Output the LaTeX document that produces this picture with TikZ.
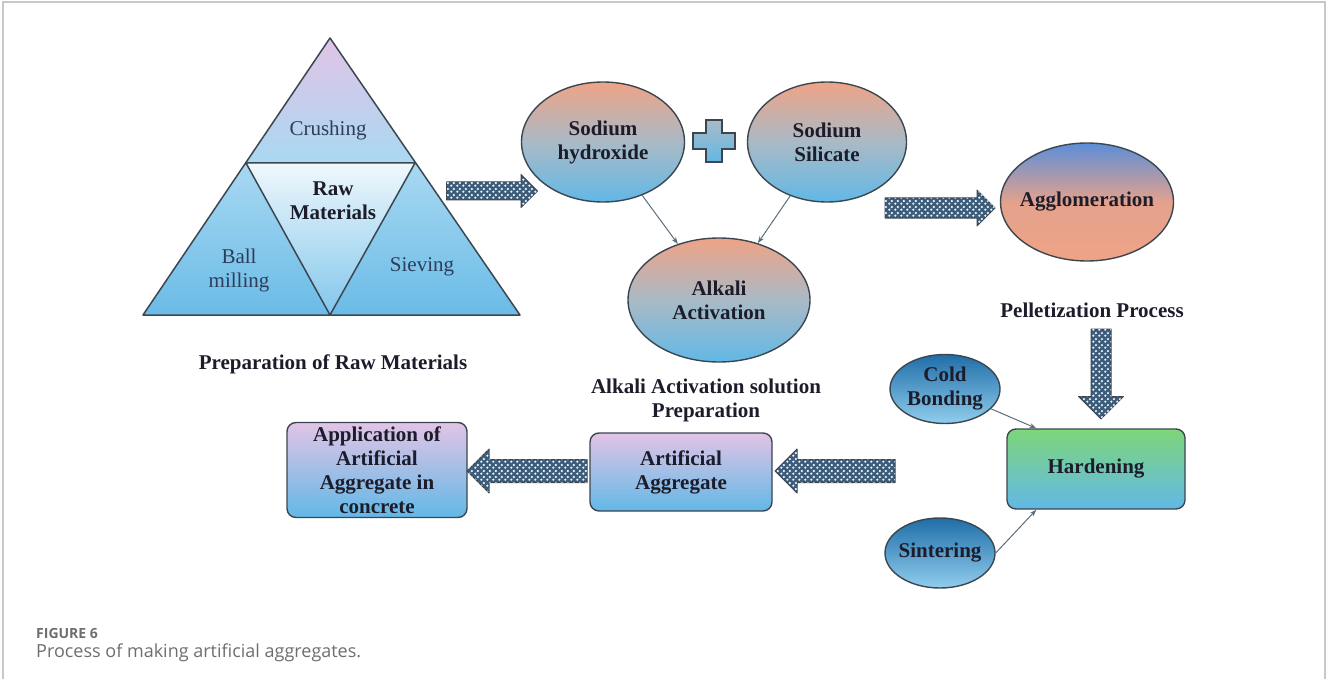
\documentclass[tikz,border=0pt]{standalone}
\usepackage{fontspec}
\setmainfont{Liberation Serif}
\newfontfamily\capfont{Open Sans}
\usetikzlibrary{shapes.geometric,patterns,arrows.meta}

\definecolor{salmon}{HTML}{EFA386}
\definecolor{skyblue}{HTML}{62B8E6}
\definecolor{midgrey}{HTML}{A9BAC6}
\definecolor{lilac}{HTML}{E2C4E6}
\definecolor{deepblue}{HTML}{1F6EA8}
\definecolor{glowblue}{HTML}{5C8ED8}
\definecolor{leafgreen}{HTML}{7ED67A}
\definecolor{edgegrey}{HTML}{3C4650}
\definecolor{hatchblue}{HTML}{3D5C7A}
\definecolor{hatchdot}{HTML}{EEF4F8}
\definecolor{linkgrey}{HTML}{5B6E7C}
\definecolor{inkblue}{HTML}{2D3D5A}
\definecolor{inkdark}{HTML}{1C1C2A}
\definecolor{captiongrey}{HTML}{6E6E6E}
\definecolor{framegrey}{HTML}{C8C8C8}

% light dots set as a checkerboard, for the block arrows
\pgfdeclarepatternformonly{dotchecks}{\pgfqpoint{0pt}{0pt}}{\pgfqpoint{6pt}{6pt}}%
  {\pgfqpoint{6pt}{6pt}}{%
  \pgfpathcircle{\pgfqpoint{1.5pt}{1.5pt}}{1.4pt}
  \pgfpathcircle{\pgfqpoint{4.5pt}{4.5pt}}{1.4pt}
  \pgfusepath{fill}}

\newcommand\diagfont{\fontsize{21}{24}\selectfont}

% block arrow: centre, angle, length, shaft, head
\newcommand\hatcharrow[5]{%
  \draw[hatched, shift={(#1)}, rotate=#2]
    (-#3/2,-#4/2) -- (#3/2-#5/2,-#4/2) -- (#3/2-#5/2,-#5/2) -- (#3/2,0)
    -- (#3/2-#5/2,#5/2) -- (#3/2-#5/2,#4/2) -- (-#3/2,#4/2) -- cycle;}

\tikzset{
  boldtext/.style={font=\diagfont\bfseries, text=inkdark, align=center},
  thintext/.style={font=\diagfont, text=inkblue, align=center},
  bubble/.style={ellipse, draw=edgegrey, line width=1.4pt, inner xsep=-4pt,
    inner ysep=0pt, boldtext},
  soda/.style={bubble, top color=salmon, bottom color=skyblue, middle color=midgrey},
  darkbubble/.style={bubble, top color=deepblue, bottom color=skyblue!70!white},
  stepbox/.style={rectangle, rounded corners=9pt, draw=edgegrey, line width=1.4pt,
    inner sep=0pt, boldtext},
  hatched/.style={draw=edgegrey, line width=1pt, line join=round, fill=hatchblue,
    postaction={pattern=dotchecks, pattern color=hatchdot}},
  link/.style={draw=linkgrey, line width=1pt, -{Stealth[length=7pt,width=5pt]}}
}

\begin{document}
\begin{tikzpicture}[x=1pt, y=-1pt]
  \useasboundingbox (0,0) rectangle (1327,679);

  % frame of the figure
  \draw[framegrey, line width=1.5pt] (3,679) -- (3,2) -- (1325,2) -- (1325,679);

  % The raw material triangle.
  \coordinate (apex) at (330,38);
  \coordinate (bl) at (143,315);
  \coordinate (br) at (520,315);
  \coordinate (ml) at (246,163);
  \coordinate (mr) at (415,163);
  \coordinate (mb) at (330,315);
  \shade[top color=lilac, bottom color=skyblue!55!white] (apex) -- (ml) -- (mr) -- cycle;
  \shade[top color=skyblue!55!white, bottom color=skyblue!95!white] (ml) -- (bl) -- (mb) -- cycle;
  \shade[top color=skyblue!55!white, bottom color=skyblue!95!white] (mr) -- (mb) -- (br) -- cycle;
  \shade[top color=white!90!skyblue, bottom color=skyblue!80!white] (ml) -- (mr) -- (mb) -- cycle;
  \draw[edgegrey, line width=1.5pt, line join=round]
    (apex) -- (bl) -- (br) -- cycle (ml) -- (mr) -- (mb) -- cycle;

  \node[thintext] (crush) at (328,130) {Crushing};
  \node[boldtext] (raw) at (333,201) {Raw\\Materials};
  \node[thintext] (ball) at (239,270) {Ball\\milling};
  \node[thintext] (siev) at (422,267) {Sieving};
  \node[boldtext] (prepraw) at (333,364) {Preparation of Raw Materials};

  % Alkali activation solution.
  \node[soda, minimum width=163pt, minimum height=120pt] (hyd) at (603,142)
    {Sodium\\hydroxide};
  \node[soda, minimum width=159pt, minimum height=120pt] (sil) at (827,142)
    {Sodium\\Silicate};
  \node[soda, minimum width=182pt, minimum height=124pt] (alk) at (719,300)
    {Alkali\\Activation};
  \node[boldtext] (alkcap) at (706,400) {Alkali Activation solution\\Preparation};

  % the plus between the two sodium bubbles
  \shade[top color=midgrey, bottom color=skyblue, draw=edgegrey, line width=1.2pt]
    (706,120) -- ++(16,0) -- ++(0,13) -- ++(13,0) -- ++(0,16) -- ++(-13,0)
    -- ++(0,13) -- ++(-16,0) -- ++(0,-13) -- ++(-13,0) -- ++(0,-16) -- ++(13,0) -- cycle;

  \draw[link] (hyd) -- (alk);
  \draw[link] (sil) -- (alk);

  % Pelletization.
  \node[bubble, inner xsep=-10pt, top color=glowblue, bottom color=salmon,
    middle color=salmon!92!glowblue, minimum width=173pt, minimum height=118pt]
    (agg) at (1087,202) {Agglomeration};
  \node[boldtext] (pellet) at (1092,310) {Pelletization Process};

  % Hardening and its two routes.
  \node[stepbox, top color=leafgreen, bottom color=skyblue, minimum width=178pt,
    minimum height=80pt] (hard) at (1096,469) {Hardening};
  \node[darkbubble, minimum width=110pt, minimum height=69pt] (cold) at (945,389)
    {Cold\\Bonding};
  \node[darkbubble, minimum width=110pt, minimum height=70pt] (sint) at (940,553)
    {Sintering};
  \draw[link] (cold) -- ([xshift=30pt]hard.north west);
  \draw[link] (sint.east) -- ([xshift=30pt]hard.south west);

  % The two product boxes.
  \node[stepbox, top color=lilac, bottom color=skyblue, minimum width=182pt,
    minimum height=78pt] (aa) at (681,472) {Artificial\\Aggregate};
  \node[stepbox, top color=lilac, bottom color=skyblue, minimum width=180pt,
    minimum height=95pt] (app) at (377,470)
    {Application of\\Artificial\\Aggregate in\\concrete};

  % hatched block arrows
  \coordinate (go1) at (492,191);
  \coordinate (go2) at (940,208);
  \coordinate (go3) at (1101,374);
  \coordinate (go4) at (835,471);
  \coordinate (go5) at (527,471);
  \hatcharrow{go1}{0}{91}{18}{33}
  \hatcharrow{go2}{0}{110}{20}{36}
  \hatcharrow{go3}{-90}{90}{20}{45}
  \hatcharrow{go4}{180}{120}{23}{44}
  \hatcharrow{go5}{180}{120}{23}{44}

  % caption
  \node[anchor=west, inner sep=0pt, font=\capfont\bfseries\fontsize{14}{16}\selectfont,
    text=captiongrey] (fig) at (36,633) {FIGURE 6};
  \node[anchor=west, inner sep=0pt, font=\capfont\fontsize{18}{20}\selectfont,
    text=captiongrey] (cap) at (36,653) {Process of making artificial aggregates.};
\end{tikzpicture}
\end{document}
